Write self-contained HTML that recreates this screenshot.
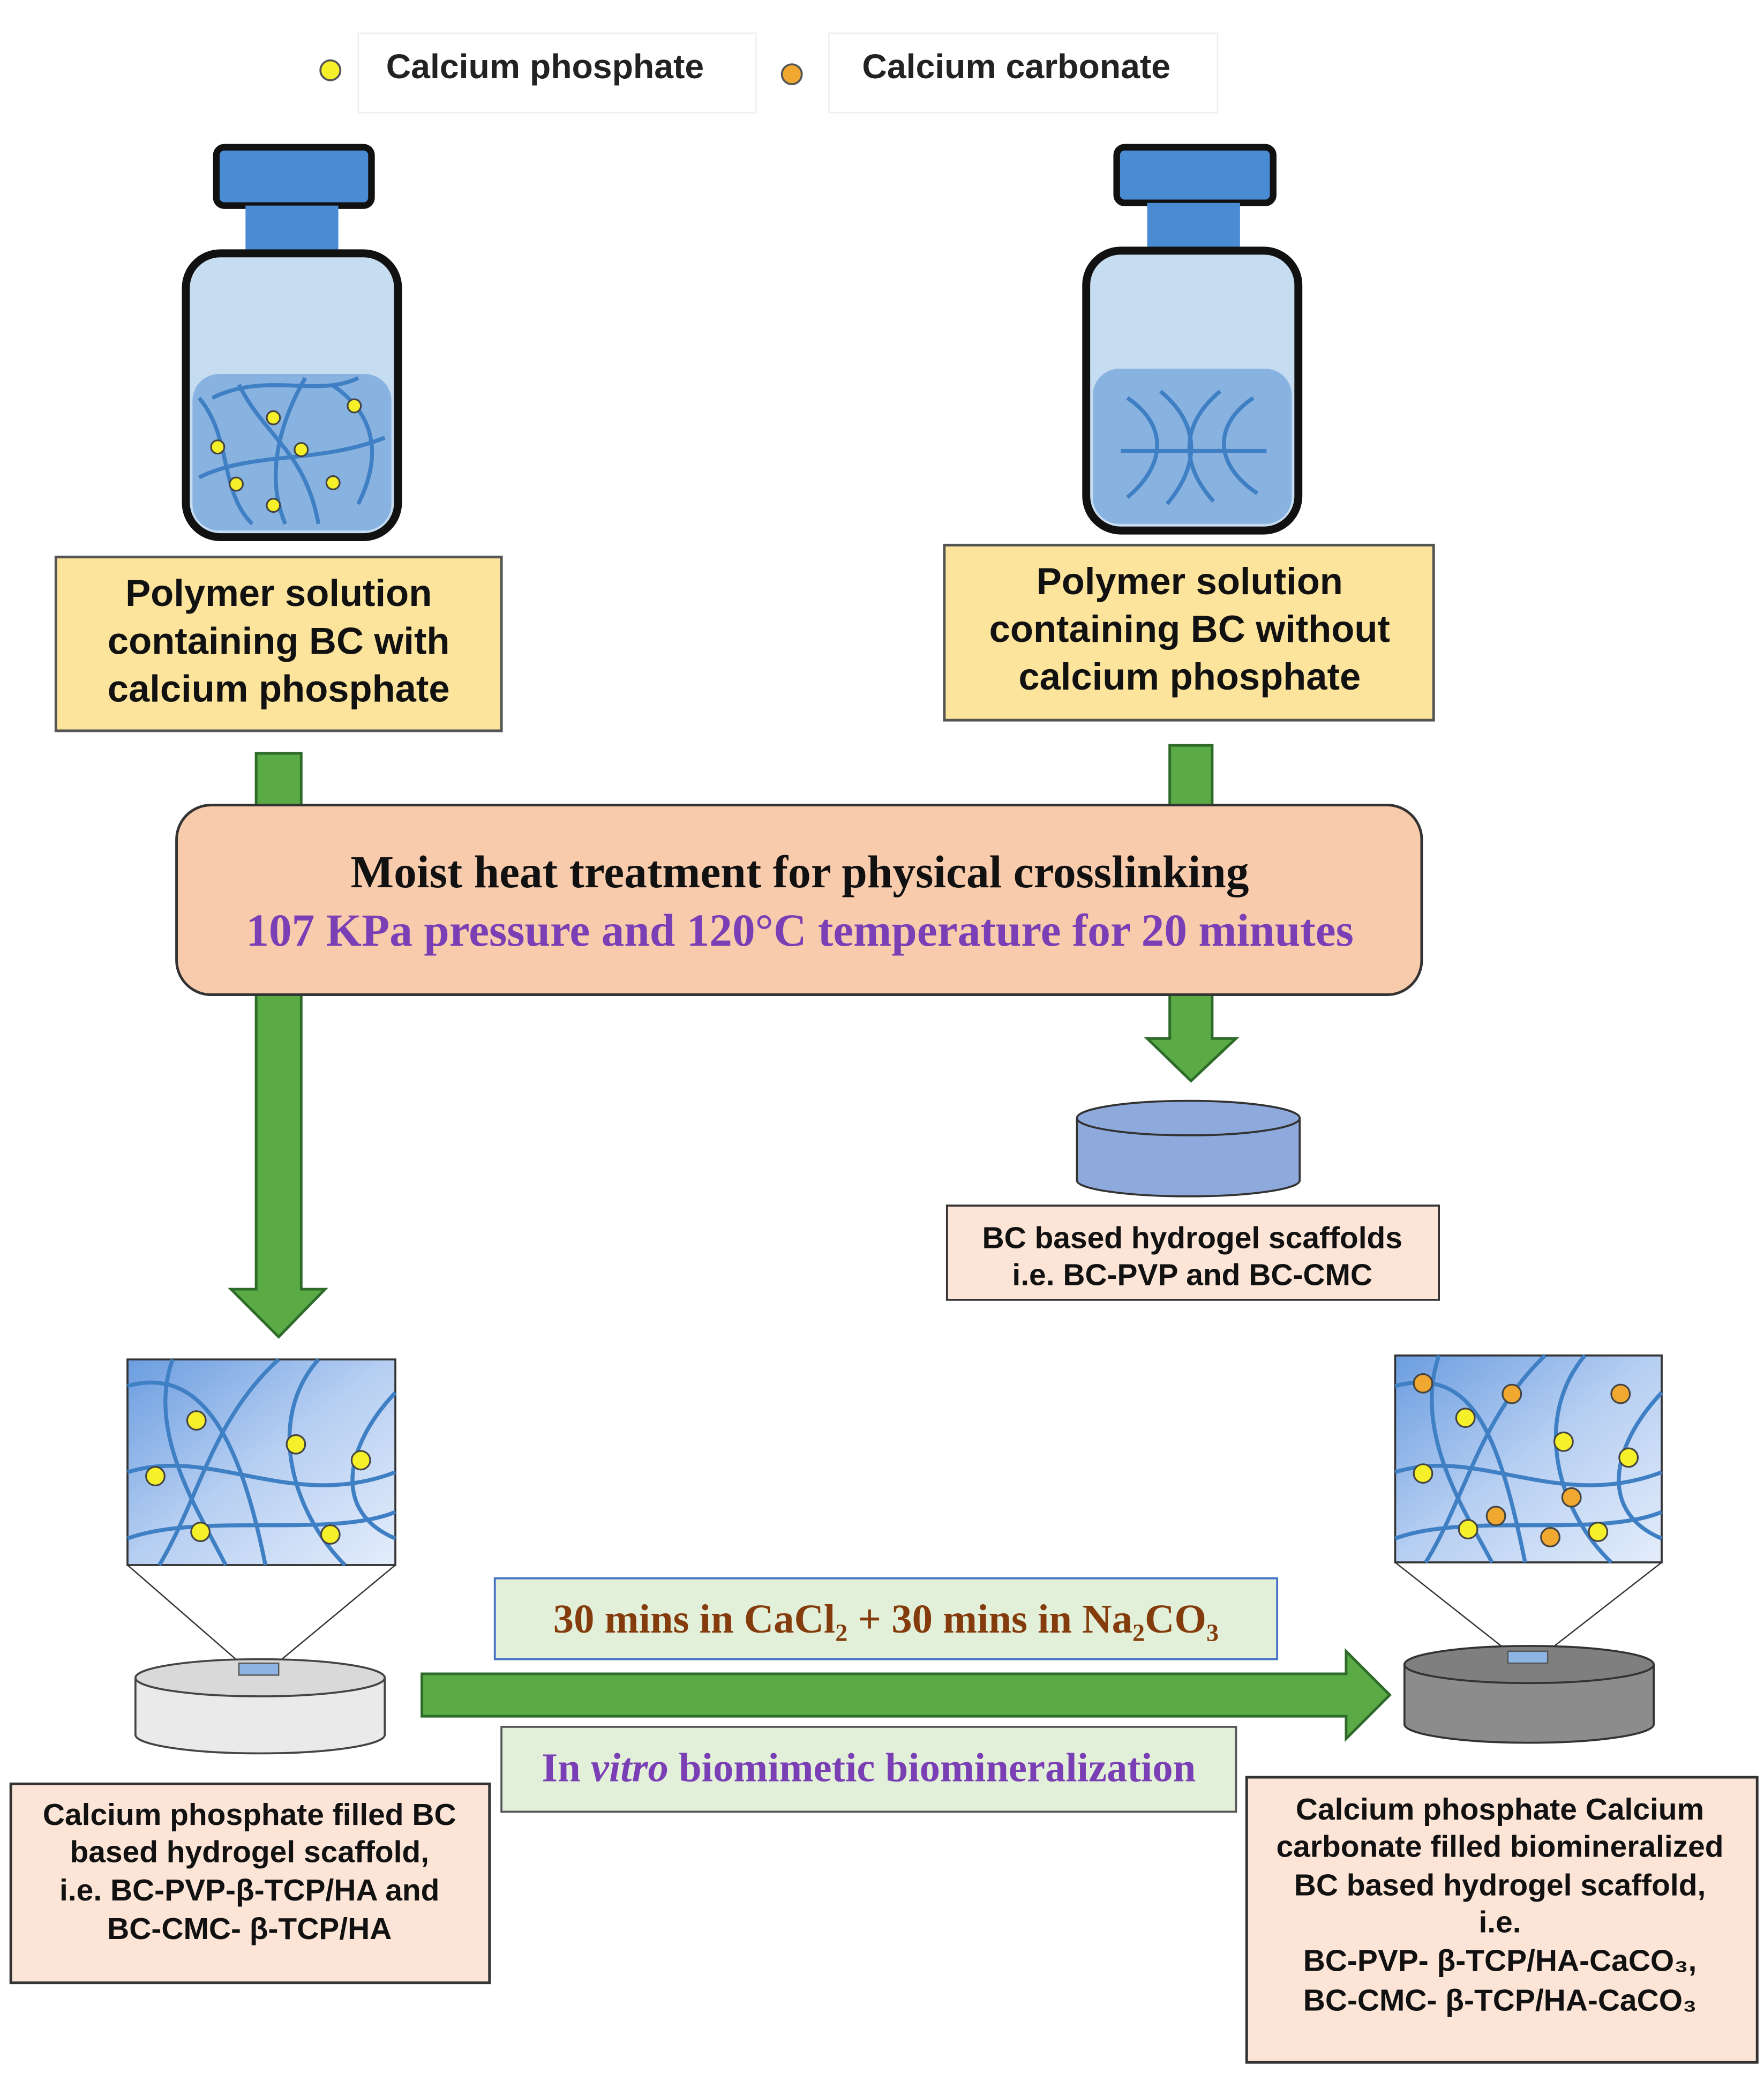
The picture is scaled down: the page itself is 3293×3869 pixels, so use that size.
<!DOCTYPE html>
<html><head><meta charset="utf-8"><style>
html,body{margin:0;padding:0;background:#fff}
svg{display:block}
.s{font-family:"Liberation Sans",sans-serif;font-weight:bold}
.r{font-family:"Liberation Serif",serif;font-weight:bold}
</style></head><body>
<svg width="3293" height="3869" viewBox="0 0 1330 1563" xmlns="http://www.w3.org/2000/svg">
<defs>
<linearGradient id="g1" x1="0" y1="0" x2="1" y2="1"><stop offset="0" stop-color="#6b9de0"/><stop offset="0.5" stop-color="#b7cff2"/><stop offset="1" stop-color="#e4edfb"/></linearGradient>
</defs>
<rect width="1330" height="1563" fill="#fff"/>
<!-- legend -->
<rect x="270" y="25" width="300" height="60" fill="none" stroke="#eee"/>
<rect x="625" y="25" width="293" height="60" fill="none" stroke="#eee"/>
<circle cx="249" cy="53" r="7.5" fill="#f5f02a" stroke="#555" stroke-width="1.5"/>
<text x="291" y="59" class="s" font-size="26" fill="#222">Calcium phosphate</text>
<circle cx="597" cy="56" r="7.5" fill="#f0a830" stroke="#555" stroke-width="1.5"/>
<text x="650" y="59" class="s" font-size="26" fill="#222">Calcium carbonate</text>

<!-- left bottle -->
<rect x="163" y="111" width="117" height="44" rx="6" fill="#4a8cd4" stroke="#111" stroke-width="5"/>
<rect x="185" y="155" width="70" height="36" fill="#4a8cd4"/>
<rect x="140" y="191" width="160" height="214" rx="26" fill="#c6dcf1" stroke="#111" stroke-width="6"/>
<rect x="145" y="282" width="150" height="118" rx="20" fill="#88b2e0"/>
<g fill="none" stroke="#3f7fc4" stroke-width="3">
<path d="M150 300 C175 330 165 370 190 395"/><path d="M180 290 C200 330 230 340 240 395"/><path d="M230 285 C210 320 200 360 215 395"/><path d="M250 290 C280 310 290 340 270 380"/><path d="M150 360 C190 340 240 350 290 330"/><path d="M160 300 C200 280 240 300 270 285"/>
</g>
<g fill="#f5f02a" stroke="#444" stroke-width="1.3">
<circle cx="164" cy="337" r="5"/><circle cx="206" cy="315" r="5"/><circle cx="267" cy="306" r="5"/><circle cx="227" cy="339" r="5"/><circle cx="178" cy="365" r="5"/><circle cx="251" cy="364" r="5"/><circle cx="206" cy="381" r="5"/>
</g>
<!-- right bottle -->
<rect x="842" y="111" width="118" height="42" rx="6" fill="#4a8cd4" stroke="#111" stroke-width="5"/>
<rect x="865" y="153" width="70" height="36" fill="#4a8cd4"/>
<rect x="819" y="189" width="160" height="211" rx="26" fill="#c6dcf1" stroke="#111" stroke-width="6"/>
<rect x="824" y="278" width="150" height="117" rx="20" fill="#88b2e0"/>
<g fill="none" stroke="#3f7fc4" stroke-width="3">
<path d="M850 300 C880 320 880 350 850 375"/><path d="M875 295 C905 320 905 350 880 380"/><path d="M920 295 C890 320 890 350 915 378"/><path d="M945 300 C915 320 915 350 948 372"/><path d="M845 340 L955 340"/>
</g>

<!-- label boxes -->
<rect x="42" y="420" width="336" height="131" fill="#fde49c" stroke="#555" stroke-width="2"/>
<g class="s" font-size="28.5" fill="#111" text-anchor="middle">
<text x="210" y="457">Polymer solution</text><text x="210" y="493">containing BC with</text><text x="210" y="529">calcium phosphate</text>
</g>
<rect x="712" y="411" width="369" height="132" fill="#fde49c" stroke="#555" stroke-width="2"/>
<g class="s" font-size="28.5" fill="#111" text-anchor="middle">
<text x="897" y="448">Polymer solution</text><text x="897" y="484">containing BC without</text><text x="897" y="520">calcium phosphate</text>
</g>

<!-- arrows -->
<g fill="#5aab46" stroke="#2e6b2a" stroke-width="2">
<path d="M193 568 H227 V972 H245 L210 1008 L174 972 H193 Z"/>
<path d="M882 562 H914 V783 H932 L898 815 L865 783 H882 Z"/>
<path d="M318 1262 H1015 V1245 L1048 1278 L1015 1311 V1294 H318 Z"/>
</g>

<!-- moist heat box -->
<rect x="133" y="607" width="939" height="143" rx="26" fill="#f8cbad" stroke="#333" stroke-width="2"/>
<text x="603" y="669" class="r" font-size="34.5" fill="#111" text-anchor="middle">Moist heat treatment for physical crosslinking</text>
<text x="603" y="713" class="r" font-size="34.5" fill="#7b3fb5" text-anchor="middle">107 KPa pressure and 120°C temperature for 20 minutes</text>

<!-- right disc -->
<path d="M812 843 V890 A84 12 0 0 0 980 890 V843 Z" fill="#8ea9db" stroke="#333" stroke-width="1.5"/>
<ellipse cx="896" cy="843" rx="84" ry="13" fill="#8ea9db" stroke="#333" stroke-width="1.5"/>
<rect x="714" y="909" width="371" height="71" fill="#fce4d6" stroke="#333" stroke-width="1.5"/>
<g class="s" font-size="23" fill="#111" text-anchor="middle"><text x="899" y="941">BC based hydrogel scaffolds</text><text x="899" y="969">i.e. BC-PVP and BC-CMC</text></g>

<!-- left zoom -->
<rect x="96" y="1025" width="202" height="155" fill="url(#g1)" stroke="#333" stroke-width="1.5"/>
<g fill="none" stroke="#3f7fc4" stroke-width="3">
<path d="M96 1045 C150 1030 180 1080 200 1180"/><path d="M130 1025 C110 1080 150 1140 170 1180"/><path d="M210 1025 C160 1070 150 1130 120 1180"/><path d="M96 1110 C160 1090 220 1140 298 1110"/><path d="M240 1025 C200 1070 220 1140 260 1180"/><path d="M298 1050 C260 1090 250 1140 298 1160"/><path d="M96 1160 C150 1140 250 1160 298 1140"/>
</g>
<g fill="#f5f02a" stroke="#444" stroke-width="1.3">
<circle cx="148" cy="1071" r="7"/><circle cx="223" cy="1089" r="7"/><circle cx="117" cy="1113" r="7"/><circle cx="272" cy="1101" r="7"/><circle cx="151" cy="1155" r="7"/><circle cx="249" cy="1157" r="7"/>
</g>
<path d="M96 1180 L180 1253 M298 1180 L210 1253" stroke="#333" fill="none"/>
<path d="M102 1265 V1308 A94 14 0 0 0 290 1308 V1265 Z" fill="#eaeaea" stroke="#444" stroke-width="1.5"/>
<ellipse cx="196" cy="1265" rx="94" ry="14" fill="#d9d9d9" stroke="#444" stroke-width="1.5"/>
<rect x="180" y="1254" width="30" height="9" fill="#8eb4e3" stroke="#555"/>

<!-- right zoom -->
<rect x="1052" y="1022" width="201" height="156" fill="url(#g1)" stroke="#333" stroke-width="1.5"/>
<g fill="none" stroke="#3f7fc4" stroke-width="3">
<path d="M1052 1045 C1110 1030 1130 1080 1150 1178"/><path d="M1085 1022 C1065 1080 1105 1140 1125 1178"/><path d="M1165 1022 C1115 1070 1105 1130 1075 1178"/><path d="M1052 1110 C1115 1090 1175 1140 1253 1110"/><path d="M1195 1022 C1155 1070 1175 1140 1215 1178"/><path d="M1253 1050 C1215 1090 1205 1140 1253 1160"/><path d="M1052 1160 C1105 1140 1205 1160 1253 1140"/>
</g>
<g fill="#f5f02a" stroke="#444" stroke-width="1.3">
<circle cx="1105" cy="1069" r="7"/><circle cx="1179" cy="1087" r="7"/><circle cx="1073" cy="1111" r="7"/><circle cx="1228" cy="1099" r="7"/><circle cx="1107" cy="1153" r="7"/><circle cx="1205" cy="1155" r="7"/>
</g>
<g fill="#f0a830" stroke="#444" stroke-width="1.3">
<circle cx="1073" cy="1043" r="7"/><circle cx="1140" cy="1051" r="7"/><circle cx="1222" cy="1051" r="7"/><circle cx="1185" cy="1129" r="7"/><circle cx="1128" cy="1143" r="7"/><circle cx="1169" cy="1159" r="7"/>
</g>
<path d="M1052 1178 L1137 1245 M1253 1178 L1167 1245" stroke="#333" fill="none"/>
<path d="M1059 1255 V1300 A94 14 0 0 0 1247 1300 V1255 Z" fill="#8c8c8c" stroke="#333" stroke-width="1.5"/>
<ellipse cx="1153" cy="1255" rx="94" ry="14" fill="#7f7f7f" stroke="#333" stroke-width="1.5"/>
<rect x="1137" y="1245" width="30" height="9" fill="#8eb4e3" stroke="#555"/>

<!-- process boxes -->
<rect x="373" y="1190" width="590" height="61" fill="#e2f0d9" stroke="#4472c4" stroke-width="1.5"/>
<text x="668" y="1231" class="r" font-size="31" fill="#843c0c" text-anchor="middle">30 mins in CaCl₂ + 30 mins in Na₂CO₃</text>
<rect x="378" y="1302" width="554" height="64" fill="#e2f0d9" stroke="#555" stroke-width="1.5"/>
<text x="655" y="1343" class="r" font-size="31" fill="#7b3fb5" text-anchor="middle">In <tspan font-style="italic">vitro</tspan> biomimetic biomineralization</text>

<!-- bottom boxes -->
<rect x="8" y="1345" width="361" height="150" fill="#fce4d6" stroke="#333" stroke-width="2"/>
<g class="s" font-size="23" fill="#111" text-anchor="middle">
<text x="188" y="1376">Calcium phosphate filled BC</text><text x="188" y="1404">based hydrogel scaffold,</text><text x="188" y="1433">i.e. BC-PVP-β-TCP/HA and</text><text x="188" y="1462">BC-CMC- β-TCP/HA</text>
</g>
<rect x="940" y="1340" width="385" height="215" fill="#fce4d6" stroke="#333" stroke-width="2"/>
<g class="s" font-size="23" fill="#111" text-anchor="middle">
<text x="1131" y="1372">Calcium phosphate Calcium</text><text x="1131" y="1400">carbonate filled biomineralized</text><text x="1131" y="1429">BC based hydrogel scaffold,</text><text x="1131" y="1457">i.e.</text><text x="1131" y="1486">BC-PVP- β-TCP/HA-CaCO₃,</text><text x="1131" y="1516">BC-CMC- β-TCP/HA-CaCO₃</text>
</g>
</svg>
</body></html>
